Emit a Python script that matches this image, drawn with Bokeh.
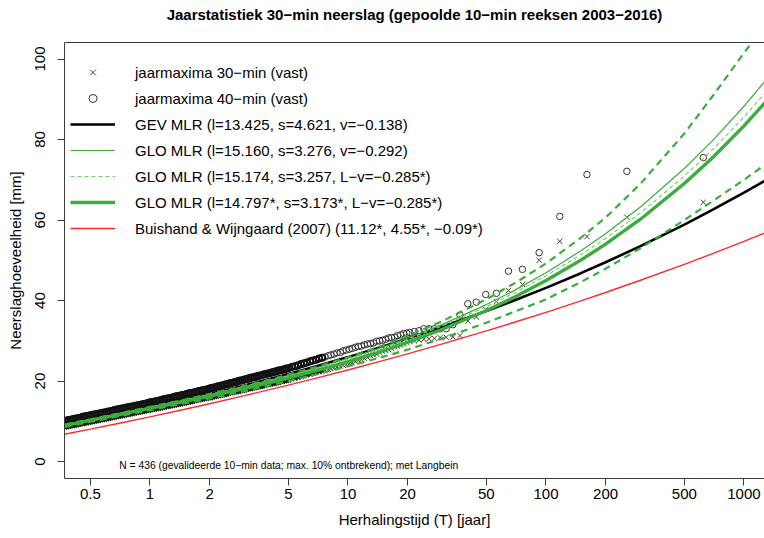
from bokeh.plotting import figure
from bokeh.models import (FixedTicker, Legend, LegendItem, LogAxis, Label, Range1d,
                          CustomJSTickFormatter, ColumnDataSource)
from bokeh.embed import file_html
from bokeh.resources import INLINE

FONT = "Liberation Sans"

# ---------------- data ----------------
x_ticks = [0.5, 1, 2, 5, 10, 20, 50, 100, 200, 500, 1000]
y_ticks = [0, 20, 40, 60, 80, 100]

# plotting positions (return period, years), shared by both annual-maximum series
T_top = [622.9, 256.2, 161.1, 117.4, 92.35, 76.06, 64.63, 56.18, 49.66, 44.49,
         40.28, 36.80, 33.86, 31.35, 29.19, 27.29, 25.63, 24.15, 22.83, 21.64]
T_mid = [20.5, 19.8, 19.1, 18.45, 17.8, 17.2, 16.6, 16.05, 15.5, 14.95,
         14.45, 13.95, 13.45, 13.0, 12.55, 12.1, 11.7, 11.3, 10.9, 10.5, 10.15,
         9.8, 9.45, 9.15, 8.8, 8.5, 8.2, 7.95, 7.65, 7.4, 7.15,
         6.9, 6.65, 6.45, 6.2, 6.0, 5.8, 5.6, 5.4, 5.2, 5.0]
T_low = [4.885, 4.775, 4.665, 4.555, 4.45, 4.35, 4.25, 4.15, 4.055, 3.96,
         3.87, 3.78, 3.695, 3.61, 3.525, 3.445, 3.365, 3.29, 3.215, 3.14,
         3.07, 3.0, 2.93, 2.86, 2.795, 2.73, 2.67, 2.61, 2.55, 2.49,
         2.43, 2.375, 2.32, 2.27, 2.215, 2.165, 2.115, 2.065, 2.02,
         1.975, 1.93, 1.885, 1.84, 1.8, 1.76, 1.72, 1.68, 1.64, 1.6,
         1.565, 1.53, 1.495, 1.46, 1.425, 1.395, 1.36, 1.33, 1.3, 1.27,
         1.24, 1.215, 1.185, 1.16, 1.13, 1.105, 1.08, 1.055, 1.03, 1.005,
         0.983, 0.96, 0.938, 0.917, 0.896, 0.875, 0.855, 0.835, 0.816, 0.797,
         0.779, 0.761, 0.744, 0.727, 0.71, 0.694, 0.678, 0.662, 0.647, 0.632,
         0.618, 0.604, 0.59, 0.576, 0.563, 0.55, 0.537, 0.525, 0.513, 0.501,
         0.49, 0.478, 0.467, 0.457, 0.446, 0.436, 0.426, 0.416, 0.407, 0.397,
         0.388, 0.379, 0.371, 0.362]

# annual maxima 30-min (crosses)
m30_top = [64.4, 60.7, 55.9, 54.7, 50.0, 44.0, 42.5, 39.7, 37.8, 35.9,
           34.9, 31.3, 31.0, 30.9, 30.8, 30.6, 30.5, 30.4, 30.2, 30.0]
m30_mid = [29.9, 29.6, 29.2, 28.9, 28.7, 28.5, 28.1, 27.8, 27.6, 27.4,
           27.0, 26.7, 26.5, 26.3, 25.9, 25.6, 25.4, 25.2, 24.8, 24.5, 24.3,
           24.1, 23.9, 23.7, 23.5, 23.3, 23.1, 22.9, 22.7, 22.6, 22.4,
           22.2, 22.0, 21.8, 21.6, 21.4, 21.2, 21.0, 20.8, 20.6, 20.3]
m30_low = [20.2, 20.1, 20.0, 19.9, 19.7, 19.6, 19.5, 19.4, 19.3, 19.2,
           19.1, 19.0, 18.8, 18.7, 18.6, 18.5, 18.4, 18.3, 18.2, 18.1,
           18.0, 17.8, 17.7, 17.6, 17.5, 17.4, 17.3, 17.2, 17.1, 17.0,
           16.8, 16.7, 16.6, 16.5, 16.4, 16.3, 16.2, 16.1, 15.9,
           15.9, 15.8, 15.7, 15.6, 15.5, 15.4, 15.3, 15.2, 15.0, 14.9,
           14.8, 14.7, 14.6, 14.5, 14.4, 14.3, 14.2, 14.1, 14.0, 13.9,
           13.8, 13.7, 13.6, 13.5, 13.4, 13.3, 13.2, 13.1, 13.0, 12.9,
           12.8, 12.7, 12.6, 12.5, 12.4, 12.3, 12.2, 12.1, 12.0, 11.9,
           11.8, 11.7, 11.6, 11.5, 11.4, 11.3, 11.2, 11.1, 11.0, 10.9,
           10.8, 10.7, 10.6, 10.5, 10.4, 10.3, 10.2, 10.1, 10.0, 9.9,
           9.8, 9.7, 9.6, 9.5, 9.4, 9.3, 9.2, 9.1, 9.0, 8.9,
           8.8, 8.7, 8.65, 8.6]

# annual maxima 40-min (circles)
m40_top = [75.5, 72.1, 71.3, 60.9, 51.9, 47.75, 47.3, 41.8, 41.5, 39.6,
           39.2, 36.4, 34.0, 33.0, 33.0, 33.0, 33.0, 33.0, 32.5, 32.3]
m40_mid = [32.1, 31.9, 31.8, 31.5, 31.3, 30.9, 30.8, 30.7, 30.4, 30.1,
           30.0, 29.9, 29.5, 29.3, 29.2, 29.0, 28.7, 28.6, 28.4, 28.1, 27.9,
           27.7, 27.5, 27.1, 27.0, 26.7, 26.5, 26.3, 26.0, 25.8, 25.6,
           25.3, 25.1, 24.9, 24.6, 24.4, 24.2, 23.9, 23.7, 23.5, 23.2]
m40_low = [23.1, 22.9, 22.8, 22.7, 22.6, 22.4, 22.3, 22.2, 22.0, 21.9,
           21.8, 21.7, 21.5, 21.4, 21.3, 21.1, 21.0, 20.9, 20.8, 20.6,
           20.5, 20.4, 20.2, 20.1, 20.0, 19.8, 19.7, 19.6, 19.5, 19.3,
           19.2, 19.1, 18.9, 18.8, 18.7, 18.6, 18.4, 18.3, 18.2,
           18.0, 17.9, 17.8, 17.7, 17.6, 17.5, 17.3, 17.2, 17.1, 17.0,
           16.9, 16.8, 16.6, 16.5, 16.4, 16.3, 16.2, 16.1, 15.9, 15.8,
           15.7, 15.6, 15.5, 15.4, 15.2, 15.1, 15.0, 14.9, 14.8, 14.7,
           14.6, 14.4, 14.3, 14.2, 14.1, 14.0, 13.9, 13.8, 13.7, 13.6,
           13.5, 13.4, 13.3, 13.2, 13.1, 13.0, 12.9, 12.8, 12.6, 12.5,
           12.4, 12.3, 12.2, 12.1, 12.0, 11.9, 11.8, 11.7, 11.6, 11.5,
           11.4, 11.3, 11.2, 11.1, 10.9, 10.8, 10.7, 10.6, 10.5, 10.4,
           10.3, 10.2, 10.1, 10.0]

# fitted curves, evaluated at these return periods
T_curve = [0.37, 0.5, 0.7, 1, 1.5, 2, 3, 5, 7, 10, 15, 20, 30, 50, 70, 100,
           150, 200, 300, 500, 700, 1000, 1300]
gev_mlr = [9.13, 10.37, 11.82, 13.43, 15.35, 16.79, 18.91, 21.75, 23.74, 25.95,
           28.60, 30.57, 33.48, 37.39, 40.12, 43.16, 46.80, 49.51, 53.51, 58.88,
           62.63, 66.81, 70.01]
glo_mlr = [9.14, 10.47, 11.95, 13.52, 15.34, 16.67, 18.65, 21.37, 23.33, 25.60,
           28.44, 30.65, 34.08, 39.00, 42.65, 46.93, 52.35, 56.61, 63.24, 72.80,
           79.91, 88.26, 94.97]
glo_lv = [9.14, 10.48, 11.97, 13.54, 15.35, 16.67, 18.63, 21.31, 23.24, 25.46,
          28.24, 30.39, 33.73, 38.49, 42.02, 46.14, 51.36, 55.44, 61.79, 70.90,
          77.66, 85.58, 91.93]
glo_reg = [8.92, 10.23, 11.68, 13.21, 14.97, 16.26, 18.16, 20.77, 22.65, 24.82,
           27.52, 29.62, 32.87, 37.52, 40.95, 44.97, 50.05, 54.03, 60.21, 69.08,
           75.67, 83.38, 89.58]
glo_upper = [9.2, 10.5, 12.0, 13.6, 15.4, 16.8, 18.8, 21.6, 23.6, 25.9,
             28.9, 31.2, 34.9, 40.3, 44.4, 49.2, 55.6, 60.6, 69.0, 81.5,
             91.0, 101.5, 109.0]
glo_lower = [8.6, 9.9, 11.3, 12.8, 14.5, 15.7, 17.5, 20.0, 21.7, 23.7,
             26.0, 27.8, 30.6, 34.5, 37.3, 40.3, 44.6, 47.9, 53.0, 60.0,
             64.8, 70.0, 74.0]
bw2007 = [6.79, 8.06, 9.52, 11.12, 13.00, 14.37, 16.37, 19.00, 20.80, 22.76,
          25.07, 26.77, 29.23, 32.46, 34.67, 37.08, 39.93, 42.01, 45.04, 49.01,
          51.73, 54.71, 56.96]

labels = ["jaarmaxima 30\u2212min (vast)",
          "jaarmaxima 40\u2212min (vast)",
          "GEV MLR (l=13.425, s=4.621, v=\u22120.138)",
          "GLO MLR (l=15.160, s=3.276, v=\u22120.292)",
          "GLO MLR (l=15.174, s=3.257, L\u2212v=\u22120.285*)",
          "GLO MLR (l=14.797*, s=3.173*, L\u2212v=\u22120.285*)",
          "Buishand & Wijngaard (2007) (11.12*, 4.55*, \u22120.09*)"]

title = "Jaarstatistiek 30\u2212min neerslag (gepoolde 10\u2212min reeksen 2003\u22122016)"
note = "N = 436 (gevalideerde 10\u2212min data; max. 10% ontbrekend); met Langbein"

T_pos = T_top + T_mid + T_low
max30 = m30_top + m30_mid + m30_low
max40 = m40_top + m40_mid + m40_low
assert len(T_pos) == len(max30) == len(max40)

# ---------------- figure ----------------
AX = "#3c3c3c"
GREEN = "#3aae3a"

p = figure(width=764, height=538, x_axis_type="log",
           x_range=Range1d(0.3700, 1269.6), y_range=Range1d(-4.2, 104.1),
           output_backend="svg", toolbar_location=None,
           min_border_left=64, min_border_right=0, min_border_top=42,
           min_border_bottom=60)
p.outline_line_color = None
p.background_fill_color = "white"
p.border_fill_color = "white"
p.xgrid.visible = False
p.ygrid.visible = False

for ax in (p.xaxis[0], p.yaxis[0]):
    ax.axis_line_color = AX
    ax.major_tick_line_color = AX
    ax.minor_tick_line_color = None
    ax.major_tick_out = 7
    ax.major_tick_in = 0
    ax.major_label_text_font = FONT
    ax.major_label_text_font_size = "15px"
    ax.major_label_text_color = "black"
    ax.axis_label_text_font = FONT
    ax.axis_label_text_font_size = "15px"
    ax.axis_label_text_font_style = "normal"
    ax.axis_label_text_color = "black"

p.xaxis[0].ticker = FixedTicker(ticks=x_ticks)
p.xaxis[0].formatter = CustomJSTickFormatter(code="return tick.toString();")
p.xaxis[0].major_label_standoff = 3
p.xaxis[0].axis_label = "Herhalingstijd (T) [jaar]"
p.xaxis[0].axis_label_standoff = 9

p.yaxis[0].ticker = FixedTicker(ticks=y_ticks)
p.yaxis[0].major_label_orientation = "vertical"
p.yaxis[0].major_label_standoff = 12
p.yaxis[0].axis_label = "Neerslaghoeveelheid [mm]"
p.yaxis[0].axis_label_standoff = 9

# top frame line; it also carries the chart title, centred over the frame
top = LogAxis(ticker=FixedTicker(ticks=[]), axis_line_color=AX,
              major_tick_line_color=None, minor_tick_line_color=None,
              major_label_text_font_size="0px", major_tick_out=0,
              major_tick_in=0, major_label_standoff=0,
              axis_label=title, axis_label_standoff=20,
              axis_label_text_font=FONT, axis_label_text_font_size="15px",
              axis_label_text_font_style="bold", axis_label_text_color="black")
p.add_layout(top, "above")

# points: the crowded low-return-period part is drawn with heavier strokes
DENSE = 7.5
sparse = ColumnDataSource(dict(
    T=[t for t in T_pos if t >= DENSE],
    y30=[v for t, v in zip(T_pos, max30) if t >= DENSE],
    y40=[v for t, v in zip(T_pos, max40) if t >= DENSE]))
dense = ColumnDataSource(dict(
    T=[t for t in T_pos if t < DENSE],
    y30=[v for t, v in zip(T_pos, max30) if t < DENSE],
    y40=[v for t, v in zip(T_pos, max40) if t < DENSE]))

r_x = p.scatter("T", "y30", source=sparse, marker="x", size=7.5,
                line_color="#4a3a35", line_width=1)
r_o = p.scatter("T", "y40", source=sparse, marker="circle", size=6.5,
                fill_color=None, line_color="#333333", line_width=1)
p.scatter("T", "y30", source=dense, marker="x", size=7,
          line_color="#1a1a1a", line_width=1.8)
p.scatter("T", "y40", source=dense, marker="circle", size=6.2,
          fill_color=None, line_color="#111111", line_width=1.9)

cur = ColumnDataSource(dict(T=T_curve, gev=gev_mlr, glo=glo_mlr, lv=glo_lv,
                            reg=glo_reg, up=glo_upper, lo=glo_lower, bw=bw2007))
r_gev = p.line("T", "gev", source=cur, line_color="black", line_width=2.6)
r_bw = p.line("T", "bw", source=cur, line_color="#ff2a2a", line_width=1.4)
r_glo = p.line("T", "glo", source=cur, line_color=GREEN, line_width=1.2)
r_lv = p.line("T", "lv", source=cur, line_color="#7cc87c", line_width=1.2,
              line_dash="4 3")
r_reg = p.line("T", "reg", source=cur, line_color=GREEN, line_width=3.4)
p.line("T", "up", source=cur, line_color=GREEN, line_width=2.2, line_dash="7 5")
p.line("T", "lo", source=cur, line_color=GREEN, line_width=2.2, line_dash="7 5")

legend = Legend(items=[LegendItem(label=labels[0], renderers=[r_x]),
                       LegendItem(label=labels[1], renderers=[r_o]),
                       LegendItem(label=labels[2], renderers=[r_gev]),
                       LegendItem(label=labels[3], renderers=[r_glo]),
                       LegendItem(label=labels[4], renderers=[r_lv]),
                       LegendItem(label=labels[5], renderers=[r_reg]),
                       LegendItem(label=labels[6], renderers=[r_bw])],
                location=(6, 240), margin=0, padding=0, spacing=6,
                glyph_width=45, glyph_height=20, label_height=20,
                label_standoff=20, label_text_font=FONT,
                label_text_font_size="15px", label_text_color="black",
                border_line_color=None, background_fill_alpha=0)
p.add_layout(legend, "center")

p.add_layout(Label(x=0.70, y=-1.0, text=note, text_font=FONT,
                   text_font_size="10.3px", text_baseline="middle",
                   text_align="left", text_color="black"))

open("out.html", "w").write(file_html(p, INLINE))
